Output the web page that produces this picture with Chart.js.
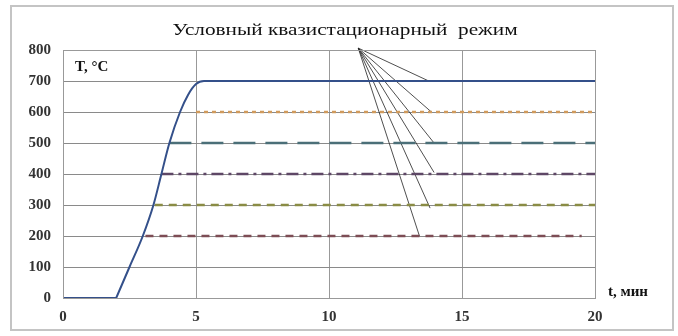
<!DOCTYPE html>
<html>
<head>
<meta charset="utf-8">
<script src="https://cdn.jsdelivr.net/npm/chart.js@4"></script>
<style>
  body { margin: 0; background: #fff; }
  #wrap { width: 678px; height: 336px; position: relative; }
</style>
</head>
<body>
<div id="wrap"><canvas id="chart" width="678" height="336"></canvas></div>
<script>
// Нагрев до 700 °C: выдержка при 0, затем подъём
const holdTime = [0, 2];
const holdTemp = [0, 0];
const riseTime = [2, 2.5, 3, 3.4, 3.7, 4.0, 4.4, 4.7, 5.0, 5.3, 20];
const riseTemp = [0, 100, 200, 300, 400, 500, 600, 655, 690, 700, 700];

// Уровни квазистационарных режимов
const levelTemp = [600, 500, 400, 300, 200];
const levelStart = [5.0, 4.0, 3.7, 3.45, 3.1];
const levelEnd = [20, 20, 20, 20, 19.5];
const levelColor = ['#d09a5c', '#4b6f78', '#5e4766', '#8a8c45', '#7d4d55'];
const levelDash = [[4, 4], [22, 10], [12, 5, 3, 5], [8, 6], [8, 6]];

// Выноска: точка сбора и концы линий (в единицах осей)
const calloutFrom = { x: 11.1, y: 806 };
const calloutToX = [13.75, 13.85, 13.95, 13.95, 13.8, 13.4];
const calloutToY = [700, 600, 500, 405, 290, 200];

const xTicks = [0, 5, 10, 15, 20];
const yTicks = [0, 100, 200, 300, 400, 500, 600, 700, 800];

const serif = "'Liberation Serif', 'DejaVu Serif', serif";
const curveColor = '#34508a';

const datasets = [];
datasets.push({
  data: holdTime.map((t, i) => ({ x: t, y: holdTemp[i] })),
  borderColor: curveColor,
  borderWidth: 2,
  pointRadius: 0,
});
datasets.push({
  data: riseTime.map((t, i) => ({ x: t, y: riseTemp[i] })),
  borderColor: curveColor,
  borderWidth: 2,
  pointRadius: 0,
  cubicInterpolationMode: 'monotone',
});
levelTemp.forEach((v, i) => {
  datasets.push({
    data: [{ x: levelStart[i], y: v }, { x: levelEnd[i], y: v }],
    borderColor: levelColor[i],
    borderWidth: 2.5,
    borderDash: levelDash[i],
    pointRadius: 0,
  });
});
calloutToX.forEach((x, i) => {
  datasets.push({
    data: [calloutFrom, { x: x, y: calloutToY[i] }],
    borderColor: '#222',
    borderWidth: 0.8,
    pointRadius: 0,
    clip: false,
  });
});

// Рамка, заголовок и подписи осей
const decor = {
  id: 'decor',
  afterDraw(chart) {
    const { ctx, chartArea: a } = chart;
    ctx.save();
    ctx.strokeStyle = '#c4c4c4';
    ctx.lineWidth = 2;
    ctx.strokeRect(11, 6, 662, 324);
    ctx.strokeStyle = '#999';
    ctx.lineWidth = 1;
    ctx.strokeRect(a.left + 0.5, a.top + 0.5, a.right - a.left, a.bottom - a.top);
    ctx.fillStyle = '#111';
    ctx.textBaseline = 'middle';
    ctx.save();
    ctx.translate(345, 31);
    ctx.scale(1.25, 1);
    ctx.font = `17px ${serif}`;
    ctx.textAlign = 'center';
    ctx.fillText('Условный квазистационарный  режим', 0, 0);
    ctx.restore();
    ctx.font = `bold 15px ${serif}`;
    ctx.textAlign = 'left';
    ctx.fillText('T, °C', a.left + 12, 67);
    ctx.fillText('t, мин', 608, 292);
    ctx.restore();
  }
};

new Chart(document.getElementById('chart'), {
  type: 'line',
  data: { datasets },
  options: {
    responsive: false,
    animation: false,
    layout: { padding: { left: 10, right: 83, top: 50, bottom: 8 } },
    plugins: { legend: { display: false }, title: { display: false }, tooltip: { enabled: false } },
    scales: {
      x: {
        type: 'linear',
        min: 0, max: 20,
        afterBuildTicks: (s) => { s.ticks = xTicks.map(v => ({ value: v })); },
        afterFit: (s) => { s.height = 30; },
        grid: { color: '#999', drawTicks: false },
        border: { display: false },
        ticks: { color: '#333', font: { family: serif, size: 15, weight: 'bold' }, padding: 10 },
      },
      y: {
        min: 0, max: 800,
        afterBuildTicks: (s) => { s.ticks = yTicks.map(v => ({ value: v })); },
        afterFit: (s) => { s.width = 53; },
        grid: { color: '#8a8a8a', drawTicks: false },
        border: { display: false },
        ticks: { color: '#333', font: { family: serif, size: 15, weight: 'bold' }, padding: 12 },
      },
    },
  },
  plugins: [decor],
});
</script>
</body>
</html>
